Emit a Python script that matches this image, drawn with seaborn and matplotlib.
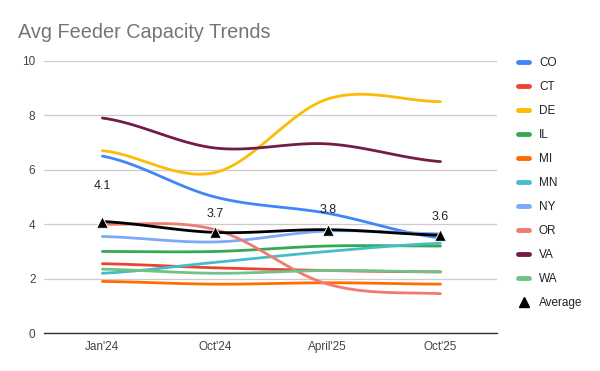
import numpy as np
import pandas as pd
import matplotlib
matplotlib.use("Agg")
import matplotlib.pyplot as plt
import seaborn as sns
from matplotlib.lines import Line2D

# data
periods = ["Jan'24", "Oct'24", "April'25", "Oct'25"]
co = [6.5, 5.0, 4.4, 3.5]
ct = [2.55, 2.4, 2.3, 2.25]
de = [6.7, 5.9, 8.6, 8.5]
il = [3.0, 3.0, 3.2, 3.2]
mi = [1.9, 1.8, 1.85, 1.8]
mn = [2.2, 2.6, 3.0, 3.3]
ny = [3.55, 3.35, 3.75, 3.65]
orr = [4.0, 3.8, 1.8, 1.45]
va = [7.9, 6.8, 6.95, 6.3]
wa = [2.35, 2.2, 2.3, 2.25]
average = [4.1, 3.7, 3.8, 3.6]

states = ["CO", "CT", "DE", "IL", "MI", "MN", "NY", "OR", "VA", "WA"]
series = [co, ct, de, il, mi, mn, ny, orr, va, wa]
colors = ["#4285F4", "#EA4335", "#FBBC04", "#34A853", "#FF6D01",
          "#46BDC6", "#7BAAF7", "#F07B72", "#741B47", "#71C287"]


def smooth(y, n=40):
    # cubic hermite spline through the points, like the sheets "smooth" option
    y = np.asarray(y, float)
    x = np.arange(len(y), dtype=float)
    m = np.zeros_like(y)
    m[1:-1] = (y[2:] - y[:-2]) / 2
    m[0] = (y[1] - y[0]) * 0.5
    m[-1] = (y[-1] - y[-2]) * 0.5
    xs, ys = [], []
    for i in range(len(y) - 1):
        t = np.linspace(0, 1, n)
        h00 = 2 * t**3 - 3 * t**2 + 1
        h10 = t**3 - 2 * t**2 + t
        h01 = -2 * t**3 + 3 * t**2
        h11 = t**3 - t**2
        xs.append(x[i] + t)
        ys.append(h00 * y[i] + h10 * m[i] + h01 * y[i + 1] + h11 * m[i + 1])
    return np.concatenate(xs), np.concatenate(ys)


rows = []
for name, vals in zip(states + ["Average"], series + [average]):
    xs, ys = smooth(vals)
    rows.append(pd.DataFrame({"x": xs, "y": ys, "state": name}))
df = pd.concat(rows, ignore_index=True)

sns.set_style("white")
plt.rcParams["font.family"] = ["Arial", "Liberation Sans", "DejaVu Sans"]

fig = plt.figure(figsize=(6, 3.71), dpi=100)
ax = fig.add_axes([0.073, 0.102, 0.755, 0.734])

pal = dict(zip(states, colors))
sns.lineplot(data=df[df.state != "Average"], x="x", y="y", hue="state",
             palette=pal, lw=2, ax=ax, legend=False, sort=False)
sns.lineplot(data=df[df.state == "Average"], x="x", y="y", color="black",
             lw=2, ax=ax, legend=False, sort=False)
sns.scatterplot(x=np.arange(len(periods)), y=average, marker="^", s=70,
                color="black", ax=ax, zorder=5, legend=False)

offsets = [21, 9, 10, 9]
for i, v in enumerate(average):
    ax.annotate(f"{v}", (i, v), xytext=(0, offsets[i]), textcoords="offset points",
                ha="center", va="bottom", fontsize=9, color="#222222")

ax.set_xlim(-0.52, 3.5)
ax.set_ylim(0, 10)
ax.set_xticks(range(len(periods)))
ax.set_xticklabels(periods)
ax.set_yticks([0, 2, 4, 6, 8, 10])
ax.set_xlabel("")
ax.set_ylabel("")
ax.tick_params(length=0, labelsize=8.5, labelcolor="#444444")
ax.tick_params(axis="y", pad=6)
ax.tick_params(axis="x", pad=6)
ax.grid(axis="y", color="#cccccc", lw=0.9)
ax.set_axisbelow(True)
for s in ["top", "right", "left"]:
    ax.spines[s].set_visible(False)
ax.spines["bottom"].set_color("#333333")
ax.spines["bottom"].set_linewidth(1)

handles = [Line2D([], [], color=c, lw=3.5) for c in colors]
handles.append(Line2D([], [], color="black", marker="^", ls="", markersize=7))
fig.legend(handles, states + ["Average"], loc="upper left",
           bbox_to_anchor=(0.845, 0.875), frameon=False, fontsize=8.5,
           handlelength=1.0, handletextpad=0.8, labelspacing=1.02,
           labelcolor="#222222")

fig.text(0.03, 0.898, "Avg Feeder Capacity Trends", fontsize=14.3, color="#757575")

fig.savefig("out.png", dpi=100)
